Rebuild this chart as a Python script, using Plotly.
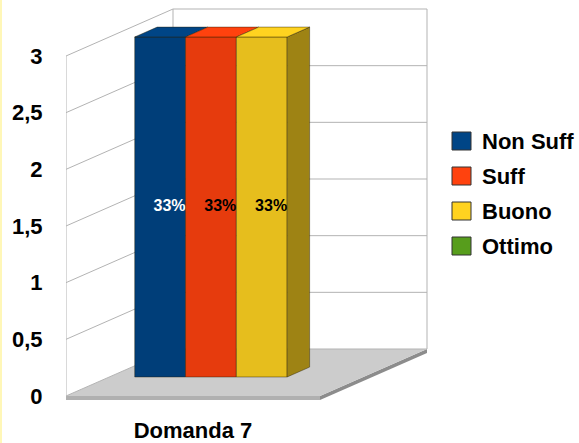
import plotly.graph_objects as go

# ---------------- data ----------------
categories = ["Domanda 7"]
series_names = ["Non Suff", "Suff", "Buono", "Ottimo"]
series_values = [3, 3, 3, 0]
series_colors = ["#004586", "#ff420e", "#ffd320", "#579d1c"]
label_colors = ["white", "black", "black", "black"]
y_tick_values = [0, 0.5, 1, 1.5, 2, 2.5, 3]
y_tick_labels = ["0", "0,5", "1", "1,5", "2", "2,5", "3"]

# ---------------- layout geometry ----------------
W, H = 579, 443
L, R, T, B = 66, 149, 5, 40
PW = W - L - R
PH = H - T - B
PX_PER_UNIT = 340 / 3.0          # vertical pixels per value unit
Y0_PX = 396                        # pixel row of value 0 on the front plane
y_lo = -((H - B) - Y0_PX) / PX_PER_UNIT
y_hi = (Y0_PX - T) / PX_PER_UNIT

FLOOR_W = 254                      # front floor width (x units = pixels)
DX = 107                           # full depth, horizontal
DY = 47 / PX_PER_UNIT              # full depth, vertical (value units)
BAND = 4 / PX_PER_UNIT             # floor thickness
GAP = 25.4
BAR_W = (FLOOR_W - 2 * GAP) / len(series_names)
D0, D1 = 0.405, 0.615              # bar depth slot
WALL_TOP = max(y_tick_values)


def shade(hexcol, f):
    h = hexcol.lstrip("#")
    r, g, b = (int(h[i:i + 2], 16) for i in (0, 2, 4))
    return "rgb(%d,%d,%d)" % (round(r * f), round(g * f), round(b * f))


def px_x(px):
    return (px - L) / PW


def px_y(py):
    return ((H - B) - py) / PH


GRID = "#b3b3b3"
shapes = []
# floor thickness
shapes.append(dict(type="rect", xref="x", yref="y", x0=0, x1=FLOOR_W, y0=-BAND, y1=0,
                   fillcolor="#b0b0b0", line=dict(width=0), layer="below"))
shapes.append(dict(type="path", xref="x", yref="y",
                   path=f"M{FLOOR_W},0 L{FLOOR_W + DX},{DY} L{FLOOR_W + DX},{DY - BAND} L{FLOOR_W},{-BAND} Z",
                   fillcolor="#8c8c8c", line=dict(width=0), layer="below"))
# floor top
shapes.append(dict(type="path", xref="x", yref="y",
                   path=f"M0,0 L{FLOOR_W},0 L{FLOOR_W + DX},{DY} L{DX},{DY} Z",
                   fillcolor="#cccccc", line=dict(width=0), layer="below"))
# walls
shapes.append(dict(type="path", xref="x", yref="y",
                   path=f"M0,0 L{DX},{DY} L{DX},{WALL_TOP + DY} L0,{WALL_TOP} Z",
                   fillcolor="white", line=dict(width=0), layer="below"))
shapes.append(dict(type="rect", xref="x", yref="y", x0=DX, x1=FLOOR_W + DX, y0=DY, y1=WALL_TOP + DY,
                   fillcolor="white", line=dict(width=0), layer="below"))
# grid lines on the walls
for t in y_tick_values:
    shapes.append(dict(type="path", xref="x", yref="y",
                       path=f"M0,{t} L{DX},{t + DY} L{FLOOR_W + DX},{t + DY}",
                       line=dict(color=GRID, width=1), layer="below"))
for (xa, ya) in [(0, 0), (DX, DY), (FLOOR_W + DX, DY)]:
    shapes.append(dict(type="line", xref="x", yref="y", x0=xa, x1=xa, y0=ya, y1=ya + WALL_TOP,
                       line=dict(color=GRID, width=1), layer="below"))
# left pale frame strip
shapes.append(dict(type="rect", xref="paper", yref="paper", x0=px_x(0), x1=px_x(2),
                   y0=px_y(H), y1=px_y(0), fillcolor="#fff7b8", line=dict(width=0), layer="below"))

fig = go.Figure()

total = sum(series_values)
b0 = D0 * DY
ddx = (D1 - D0) * DX
ddy = (D1 - D0) * DY
EDGE = dict(color="rgba(40,30,0,0.55)", width=0.8)

# front faces
for i, (name, v, c) in enumerate(zip(series_names, series_values, series_colors)):
    xl = GAP + i * BAR_W + D0 * DX
    fig.add_trace(go.Bar(x=[xl + BAR_W / 2], y=[v], base=[b0], width=[BAR_W], name=name,
                         marker=dict(color=shade(c, 0.9), line=EDGE if v > 0 else dict(width=0)),
                         showlegend=False, hoverinfo="skip"))

# top and side faces
for i, (v, c) in enumerate(zip(series_values, series_colors)):
    if v <= 0:
        continue
    xl = GAP + i * BAR_W + D0 * DX
    xr = xl + BAR_W
    v_next = series_values[i + 1] if i + 1 < len(series_values) else 0
    if v > v_next:
        lo = max(v_next, 0)
        fig.add_trace(go.Scatter(
            x=[xr, xr + ddx, xr + ddx, xr, xr],
            y=[b0 + lo, b0 + lo + ddy, b0 + v + ddy, b0 + v, b0 + lo],
            fill="toself", fillcolor=shade(c, 0.62), mode="lines", line=EDGE,
            showlegend=False, hoverinfo="skip"))
    fig.add_trace(go.Scatter(
        x=[xl, xr, xr + ddx, xl + ddx, xl],
        y=[b0 + v, b0 + v, b0 + v + ddy, b0 + v + ddy, b0 + v],
        fill="toself", fillcolor=c, mode="lines", line=EDGE,
        showlegend=False, hoverinfo="skip"))

# data labels
lx, ly, lt, lc = [], [], [], []
for i, v in enumerate(series_values):
    if v <= 0:
        continue
    xl = GAP + i * BAR_W + D0 * DX
    lx.append(xl + BAR_W)
    ly.append(b0 + v / 2)
    lt.append("%d%%" % round(100 * v / total))
    lc.append(label_colors[i])
fig.add_trace(go.Scatter(x=lx, y=ly, text=lt, mode="text", textposition="middle left",
                         textfont=dict(family="Liberation Sans Narrow, Liberation Sans, Arial",
                                       size=16, color=lc, weight="bold"),
                         showlegend=False, hoverinfo="skip"))

# manual legend
annotations = []
for i, (name, c) in enumerate(zip(series_names, series_colors)):
    cy = 141 + 35 * i
    shapes.append(dict(type="rect", xref="paper", yref="paper",
                       x0=px_x(452), x1=px_x(471), y0=px_y(cy + 9), y1=px_y(cy - 9),
                       fillcolor=c, line=dict(color="#333333", width=1), layer="above"))
    annotations.append(dict(xref="paper", yref="paper", x=px_x(480), y=px_y(cy),
                            xanchor="left", yanchor="middle", text=name, showarrow=False,
                            font=dict(family="Liberation Sans, Arial", size=22, color="black",
                                      weight="bold")))

fig.update_layout(
    width=W, height=H,
    margin=dict(l=L, r=R, t=T, b=B, pad=0),
    paper_bgcolor="white", plot_bgcolor="white",
    barmode="overlay", showlegend=False,
    shapes=shapes, annotations=annotations,
    xaxis=dict(range=[0, PW], tickmode="array", tickvals=[FLOOR_W / 2], ticktext=categories,
               showgrid=False, zeroline=False, showline=False, ticks="outside", ticklen=8,
               tickcolor="rgba(0,0,0,0)", automargin=False,
               tickfont=dict(family="Liberation Sans, Arial", size=22, color="black", weight="bold"),
               fixedrange=True),
    yaxis=dict(range=[y_lo, y_hi], tickmode="array", tickvals=y_tick_values, ticktext=y_tick_labels,
               showgrid=False, zeroline=False, showline=False, ticks="outside", ticklen=18,
               tickcolor="rgba(0,0,0,0)", automargin=False,
               tickfont=dict(family="Liberation Sans, Arial", size=22, color="black", weight="bold"),
               fixedrange=True),
)

fig.write_html("out.html", config={"displayModeBar": False},
               post_script="document.body.style.margin='0';document.body.style.overflow='hidden';")
